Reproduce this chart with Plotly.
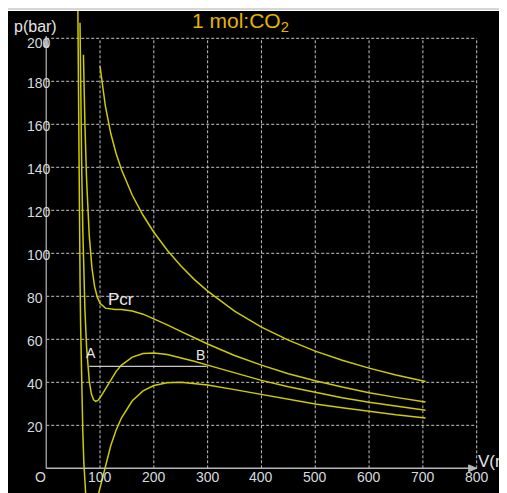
import plotly.graph_objects as go

# Isotherms of 1 mol CO2 (V in mL, p in bar)
V_low = [58.5, 59, 60, 61, 62, 63, 64, 66, 68, 70, 72, 74, 80, 85, 90, 95, 100, 105, 110, 120, 130, 140, 160, 180, 200, 225, 250, 275, 300, 350, 400, 450, 500, 550, 600, 650, 705]
p_low = [223.2, 201.7, 164.3, 133.1, 106.8, 84.9, 66.2, 37.5, 17.0, 2.4, -7.7, -14.5, -23.1, -22.6, -19.0, -14.0, -8.7, -3.4, 1.7, 10.6, 17.8, 23.5, 31.4, 36.0, 38.5, 39.8, 40.0, 39.5, 38.8, 36.6, 34.3, 32.0, 29.9, 28.2, 26.5, 24.9, 23.4]

V_sub = [62.8, 63, 64, 65, 66, 68, 70, 72, 75, 78, 80, 84, 88, 92, 96, 100, 110, 120, 130, 140, 160, 180, 200, 225, 250, 275, 300, 350, 400, 450, 500, 550, 600, 650, 705]
p_sub = [207.2, 201.9, 177.9, 157.3, 139.5, 110.9, 89.5, 73.5, 56.6, 45.6, 40.7, 34.5, 31.9, 31.1, 31.6, 32.8, 37.1, 41.4, 45.1, 48.0, 51.7, 53.4, 53.6, 52.9, 51.5, 49.8, 48.0, 44.3, 40.9, 37.9, 35.2, 32.8, 30.7, 28.9, 27.0]

V_crit = [69.2, 70, 72, 75, 78, 80, 85, 90, 95, 100, 110, 120, 128, 140, 160, 180, 200, 225, 250, 275, 300, 350, 400, 450, 500, 550, 600, 650, 705]
p_crit = [192.4, 181.7, 159.4, 134.5, 117.0, 108.2, 93.2, 84.5, 79.6, 76.8, 74.5, 74.0, 73.9, 73.9, 73.2, 71.7, 69.6, 66.7, 63.7, 60.7, 57.8, 52.5, 48.0, 44.0, 40.7, 37.8, 35.2, 33.0, 30.8]

V_hot = [100, 105, 110, 120, 130, 140, 150, 160, 180, 200, 225, 250, 275, 300, 350, 400, 450, 500, 550, 600, 650, 705]
p_hot = [187.0, 176.6, 168.4, 155.7, 146.3, 138.9, 132.5, 127.0, 117.7, 109.8, 101.4, 94.2, 87.9, 82.4, 73.1, 65.7, 59.6, 54.5, 50.3, 46.6, 43.4, 40.4]

# Maxwell line A-B
V_AB = [80, 298]
p_AB = [47.4, 47.4]

x_ticks = [100, 200, 300, 400, 500, 600, 700, 800]
y_ticks = [20, 40, 60, 80, 100, 120, 140, 160, 180, 200]

CURVE = "#cccc00"
GRID = "#c4c4c4"
AXIS = "#b8b8b8"
TXT = "#d6dadf"
FONT = "Liberation Sans, Arial, sans-serif"

fig = go.Figure()
for V, p in [(V_low, p_low), (V_sub, p_sub), (V_crit, p_crit), (V_hot, p_hot)]:
    fig.add_trace(go.Scatter(x=V, y=p, mode="lines",
                             line=dict(color=CURVE, width=1.5), hoverinfo="skip"))
fig.add_trace(go.Scatter(x=V_AB, y=p_AB, mode="lines",
                         line=dict(color="#c8c8c8", width=1.3), hoverinfo="skip"))

shapes = []
for yv in y_ticks:
    shapes.append(dict(type="line", xref="x", yref="y", x0=0, x1=800, y0=yv, y1=yv,
                       line=dict(color=GRID, width=1, dash="3px,2px"), layer="below"))
for xv in x_ticks:
    shapes.append(dict(type="line", xref="x", yref="y", x0=xv, x1=xv, y0=0, y1=200,
                       line=dict(color=GRID, width=1, dash="3px,2px"), layer="below"))
# axis lines with arrow heads
shapes.append(dict(type="line", xref="x", yref="y", x0=0, x1=800, y0=0, y1=0,
                   line=dict(color=AXIS, width=1.6)))
shapes.append(dict(type="path", xref="x", yref="y", path="M 785,1.6 L 800,0 L 785,-1.6 Z",
                   line=dict(color=AXIS, width=1), fillcolor=AXIS))
shapes.append(dict(type="line", xref="x", yref="y", x0=0, x1=0, y0=0, y1=200,
                   line=dict(color=AXIS, width=1.2)))
shapes.append(dict(type="path", xref="x", yref="y", path="M -4.5,196 L 0,201 L 4.5,196 Z",
                   line=dict(color=AXIS, width=1), fillcolor=AXIS))
# thin grey line at very top of window
shapes.append(dict(type="line", xref="paper", yref="paper", x0=-0.02, x1=1.0,
                   y0=1.004, y1=1.004, line=dict(color="#c8c8c8", width=1.5)))

ann = []
# tick labels
for xv in x_ticks:
    ann.append(dict(x=xv, y=-4.0, xref="x", yref="y", text=str(xv), showarrow=False,
                    font=dict(size=14, color=TXT, family=FONT), xanchor="center", yanchor="middle"))
ann.append(dict(x=-9.7, y=-4.0, xref="x", yref="y", text="O", showarrow=False,
                font=dict(size=14, color=TXT, family=FONT), xanchor="center", yanchor="middle"))
for yv in y_ticks:
    ann.append(dict(x=-39.4, y=yv - 1.0 if yv < 200 else 198.0, xref="x", yref="y", text=str(yv),
                    showarrow=False, font=dict(size=14, color=TXT, family=FONT),
                    xanchor="left", yanchor="middle"))
ann.append(dict(x=-19, y=205.3, xref="x", yref="y", text="p(bar)", showarrow=False,
                font=dict(size=16, color="#e4e4e4", family=FONT), xanchor="center", yanchor="middle"))
ann.append(dict(x=799, y=3.2, xref="x", yref="y", text="V(ml)", showarrow=False,
                font=dict(size=17, color="#e4e4e4", family=FONT), xanchor="left", yanchor="middle"))
ann.append(dict(x=267.3, y=207.5, xref="x", yref="y", text="1 mol:CO<sub>2</sub>", showarrow=False,
                font=dict(size=21, color="#e6b400", family=FONT), xanchor="left", yanchor="middle"))
ann.append(dict(x=83.3, y=53.6, xref="x", yref="y", text="A", showarrow=False,
                font=dict(size=14, color="#e8e8e8", family=FONT), xanchor="center", yanchor="middle"))
ann.append(dict(x=286.8, y=52.5, xref="x", yref="y", text="B", showarrow=False,
                font=dict(size=14, color="#e8e8e8", family=FONT), xanchor="center", yanchor="middle"))
ann.append(dict(x=138.7, y=78.5, xref="x", yref="y", text="Pcr", showarrow=False,
                font=dict(size=17, color="#e8e8e8", family=FONT), xanchor="center", yanchor="middle"))

# The page body adds an 8px offset; plot area fills the window from (8, 11)
fig.update_layout(
    width=507, height=493,
    margin=dict(l=0, r=0, t=3, b=0, pad=0),
    paper_bgcolor="white", plot_bgcolor="black",
    showlegend=False,
    xaxis=dict(range=[-71.0, 871.2], showgrid=False, zeroline=False, showticklabels=False,
               showline=False, fixedrange=True),
    yaxis=dict(range=[-15.2, 212.7], showgrid=False, zeroline=False, showticklabels=False,
               showline=False, fixedrange=True),
    shapes=shapes, annotations=ann,
)

fig.write_html("out.html")
